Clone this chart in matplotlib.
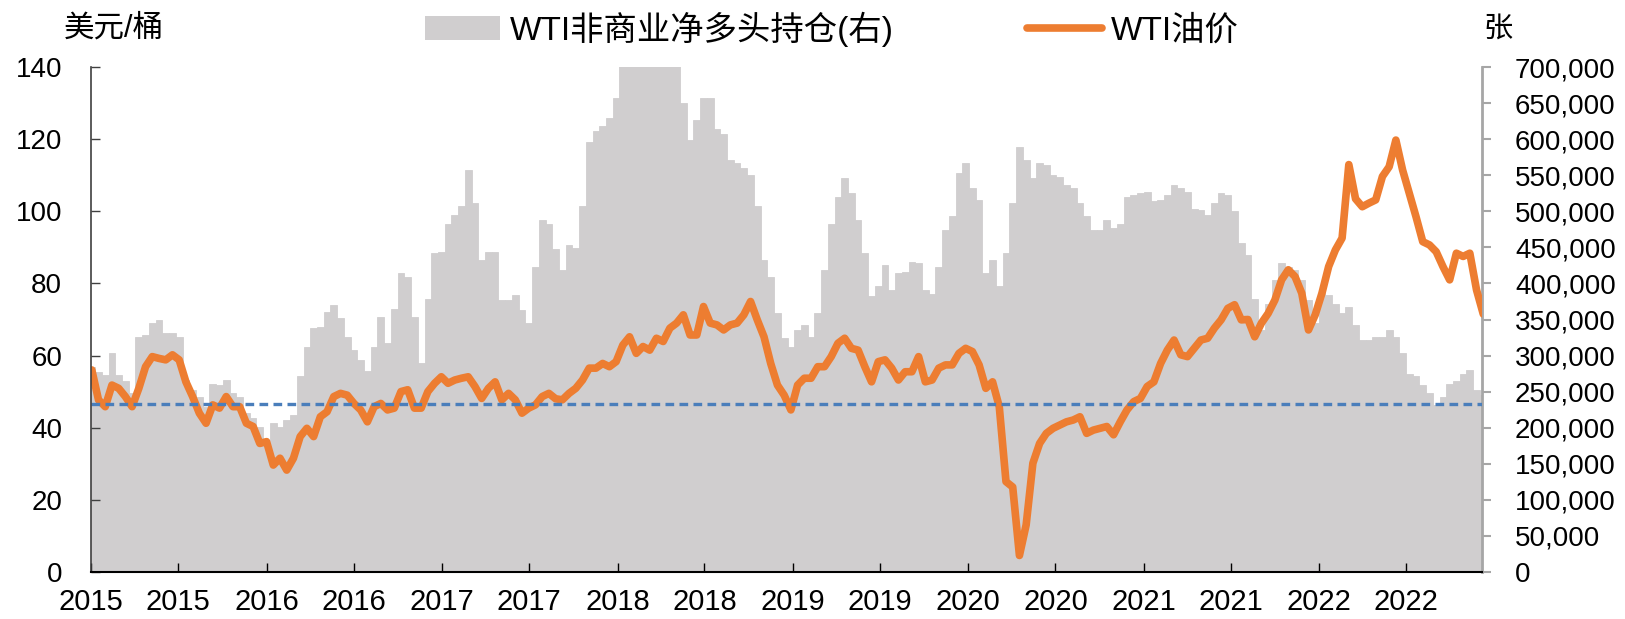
import numpy as np
import pandas as pd
import matplotlib
matplotlib.use("Agg")
import matplotlib.pyplot as plt
from matplotlib.patches import Patch
from matplotlib.lines import Line2D
from matplotlib.ticker import FuncFormatter

plt.rcParams['font.family'] = ['Liberation Sans', 'Noto Sans CJK SC']

# ---------------- data ----------------
dates = pd.date_range('2015-01-02', periods=208, freq='14D')

wti_price = [
    56.0, 47.7, 45.8, 51.8, 50.9, 48.6, 45.8, 50.9, 56.9, 59.7,
    59.2, 58.8, 60.2, 58.8, 52.7, 48.6, 44.0, 41.2, 46.3, 45.4,
    48.6, 45.8, 45.8, 41.2, 40.3, 35.6, 36.1, 29.6, 31.5, 28.2,
    31.5, 37.5, 39.8, 37.5, 43.0, 44.4, 48.6, 49.5, 49.0, 46.7,
    44.9, 41.6, 45.8, 46.7, 44.9, 45.4, 50.0, 50.5, 45.4, 45.4,
    50.0, 52.3, 54.1, 52.3, 53.2, 53.7, 54.1, 51.4, 48.1, 50.9,
    52.7, 47.7, 49.5, 47.7, 44.0, 45.4, 46.3, 48.6, 49.5, 48.0,
    47.7, 49.5, 50.9, 53.2, 56.5, 56.5, 57.8, 56.9, 58.3, 62.9,
    65.2, 60.6, 62.5, 61.5, 64.8, 63.9, 67.6, 69.0, 71.3, 65.7,
    65.7, 73.6, 69.0, 68.5, 67.1, 68.5, 69.0, 71.3, 75.0, 69.9,
    65.2, 57.8, 51.8, 49.0, 44.9, 51.8, 53.7, 53.7, 56.9, 56.9,
    59.7, 63.4, 64.8, 62.0, 61.5, 56.9, 52.7, 58.3, 58.8, 56.5,
    53.2, 55.5, 55.5, 59.7, 52.7, 53.2, 56.5, 57.4, 57.4, 60.6,
    62.0, 61.1, 57.4, 50.9, 52.7, 45.8, 25.0, 23.5, 4.5, 13.0,
    30.1, 35.6, 38.4, 39.8, 40.7, 41.6, 42.1, 43.0, 38.4, 39.3,
    39.8, 40.3, 38.0, 41.6, 44.9, 47.2, 48.1, 51.4, 52.7, 57.8,
    61.5, 64.3, 60.2, 59.7, 62.0, 64.3, 64.8, 67.6, 69.9, 73.1,
    74.1, 69.9, 70.0, 65.2, 69.0, 71.7, 75.4, 81.0, 83.8, 81.9,
    77.3, 67.1, 71.3, 77.3, 84.7, 89.3, 92.6, 113.0, 103.5, 101.3,
    102.3, 103.2, 109.7, 112.4, 119.8, 111.5, 105.0, 98.5, 91.6, 90.7,
    88.8, 84.7, 81.0, 88.4, 87.5, 88.4, 78.2, 71.5,
]

net_long = [
    284, 277, 273, 303, 273, 264, 248, 326, 328, 345,
    349, 331, 331, 326, 266, 252, 243, 229, 261, 259,
    266, 248, 243, 220, 213, 201, 178, 206, 201, 210,
    217, 271, 312, 338, 339, 360, 370, 352, 326, 308,
    294, 278, 312, 354, 317, 365, 414, 409, 354, 289,
    379, 442, 444, 483, 495, 507, 557, 511, 433, 444,
    444, 377, 377, 384, 363, 345, 423, 488, 483, 448,
    419, 453, 449, 507, 597, 611, 618, 629, 657, 705,
    720, 730, 735, 735, 730, 725, 715, 705, 650, 599,
    627, 657, 657, 615, 608, 571, 567, 560, 551, 507,
    433, 409, 359, 324, 312, 335, 342, 326, 359, 419,
    483, 520, 546, 525, 488, 442, 382, 396, 426, 391,
    414, 416, 430, 428, 391, 386, 423, 474, 493, 553,
    567, 532, 516, 414, 433, 396, 442, 511, 590, 571,
    546, 567, 564, 551, 548, 537, 532, 511, 493, 474,
    474, 488, 477, 483, 520, 523, 525, 527, 514, 516,
    523, 537, 532, 527, 504, 502, 495, 511, 525, 523,
    500, 456, 440, 379, 335, 372, 405, 428, 423, 419,
    405, 377, 345, 389, 384, 372, 359, 368, 342, 322,
    322, 326, 326, 335, 326, 303, 275, 271, 259, 248,
    231, 243, 261, 264, 275, 280, 252, 245,
]
net_long = [v * 1000 for v in net_long]

reference_level = 46.5  # dashed line, left axis

tick_dates = pd.to_datetime([f'{y}-{m:02d}-01' for y in range(2015, 2023) for m in (1, 7)])
tick_labels = [str(d.year) for d in tick_dates]

left_ticks = list(range(0, 141, 20))
right_ticks = list(range(0, 700001, 50000))

# ---------------- figure ----------------
fig = plt.figure(figsize=(16.25, 6.19), dpi=100)
ax = fig.add_axes([91.3 / 1625, 1 - 571.7 / 619, (1482.3 - 91.3) / 1625, (571.7 - 67.3) / 619])
ax2 = ax.twinx()
ax.set_zorder(ax2.get_zorder() + 1)
ax.patch.set_visible(False)

gray = '#D0CECF'
orange = '#ED7D31'
blue = '#4A7EBB'

ax2.bar(dates, net_long, width=14, align='center', color=gray,
        edgecolor=gray, linewidth=0.6)
ax.plot(dates, wti_price, color=orange, lw=5.5, solid_joinstyle='round',
        solid_capstyle='round')
ax.axhline(reference_level, color=blue, lw=2.4, linestyle=(0, (2.6, 1.6)))

ax.set_xlim(pd.Timestamp('2015-01-01'), pd.Timestamp('2022-12-07'))
ax.set_ylim(0, 140)
ax2.set_ylim(0, 700000)

ax.set_xticks(tick_dates)
ax.set_xticklabels(tick_labels)
ax.set_yticks(left_ticks)
ax2.set_yticks(right_ticks)
ax2.yaxis.set_major_formatter(FuncFormatter(lambda v, p: f'{int(v):,}'))

for a in (ax, ax2):
    a.spines['top'].set_visible(False)
ax.spines['right'].set_visible(False)
ax2.spines['left'].set_visible(False)
ax2.spines['bottom'].set_visible(False)
ax.spines['left'].set_color('#404040')
ax.spines['left'].set_linewidth(1.2)
ax.spines['bottom'].set_color('black')
ax.spines['bottom'].set_linewidth(1.5)
ax2.spines['right'].set_color('#A6A6A6')
ax2.spines['right'].set_linewidth(2)

ax.tick_params(axis='x', direction='in', length=6.5, width=1, color='black',
               labelsize=21, pad=12)
ax.tick_params(axis='y', direction='in', length=6.5, width=1, color='#404040',
               labelsize=20, pad=21)
ax2.tick_params(axis='y', direction='out', length=6.5, width=1.5, color='#A6A6A6',
                labelsize=20, pad=17, labelcolor='black')

# unit labels
fig.text(114 / 1625, 1 - 29 / 619, '美元/桶', ha='center', va='center', fontsize=22)
fig.text(1498 / 1625, 1 - 29 / 619, '张', ha='center', va='center', fontsize=21)

handles = [Patch(facecolor=gray, edgecolor='none'),
           Line2D([0], [0], color=orange, lw=5.5, solid_capstyle='round')]
labels = ['WTI非商业净多头持仓(右)', 'WTI油价']
fig.legend(handles, labels, loc='center', bbox_to_anchor=(832 / 1625, 1 - 29 / 619),
           ncol=2, frameon=False, fontsize=24, handlelength=2.25, handleheight=0.75,
           handletextpad=0.28, columnspacing=4.0, borderpad=0, borderaxespad=0)

fig.savefig('out.png', dpi=100)
